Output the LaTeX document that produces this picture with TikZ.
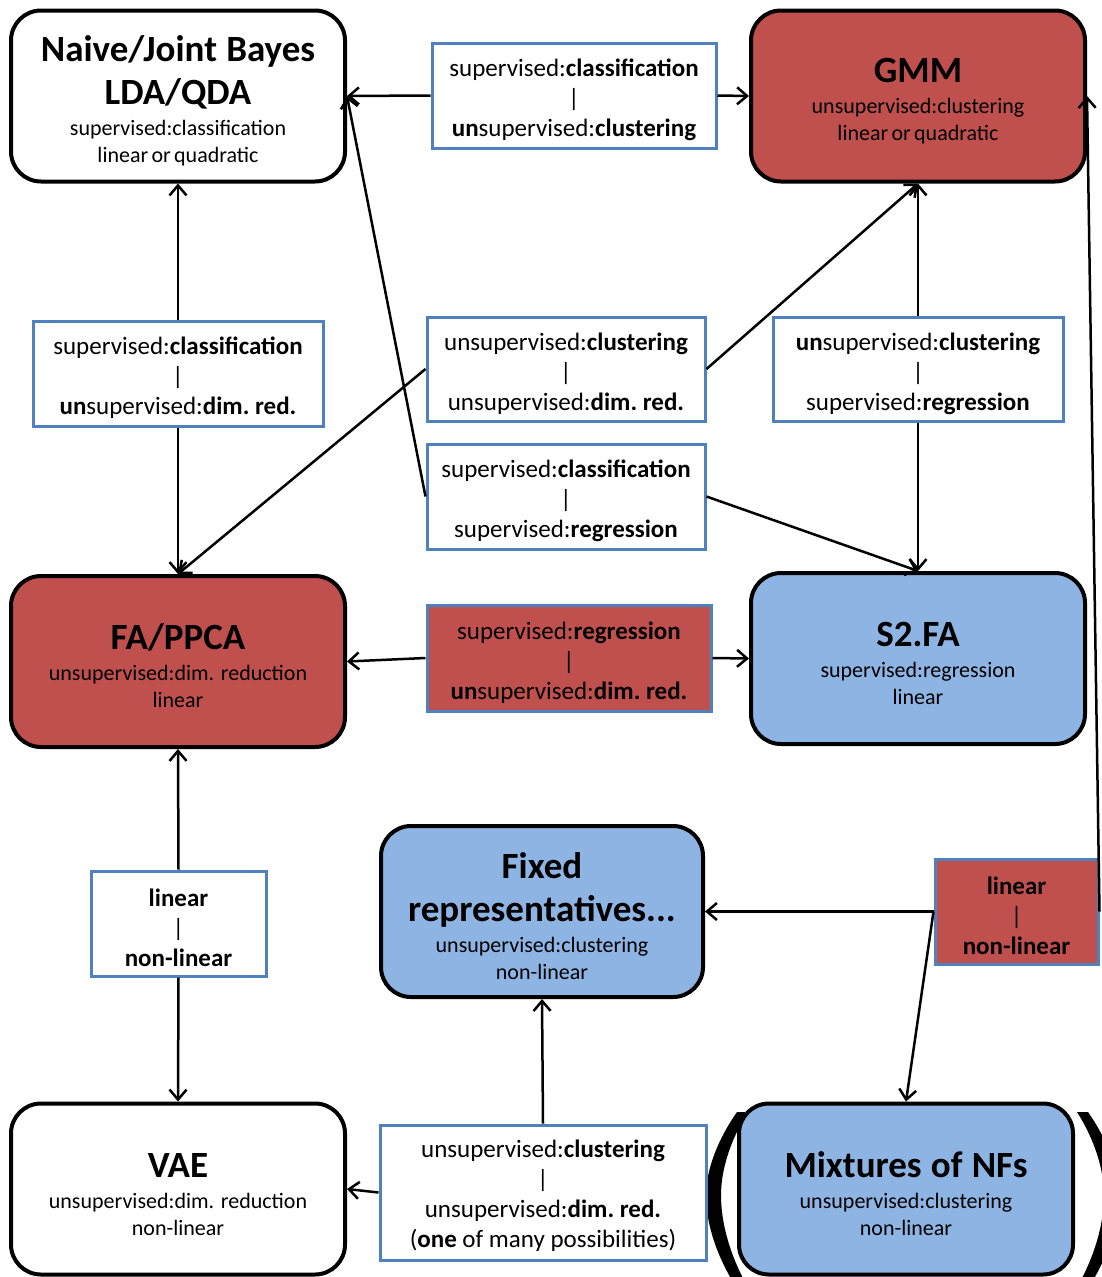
\documentclass[tikz,border=0pt]{standalone}
\usepackage{fontspec}
\setmainfont{Carlito}
\usetikzlibrary{arrows.meta}
\definecolor{cred}{HTML}{C0504D}
\definecolor{cblue}{HTML}{8EB4E3}
\definecolor{cedge}{HTML}{4F81BD}
\frenchspacing
\newcommand\ttl[1]{{\fontsize{37}{43}\selectfont\bfseries\spaceskip=0.25em\relax\rule{0pt}{35pt}#1\par}\vspace{4pt}}
\newcommand\sbt[1]{{\fontsize{22}{27}\selectfont #1\par}}
\newcommand\tst{\rule{0pt}{27pt}}
\tikzset{
  mnode/.style={draw=black, line width=4pt, rounded corners=30pt, inner sep=0pt,
    minimum height=171pt, text width=316pt, align=center},
  ebox/.style={draw=cedge, line width=3pt, fill=white, inner sep=0pt, align=center,
    font=\fontsize{25}{30}\selectfont},
  arr/.style={-{Straight Barb[length=10pt,width=17pt]}, line width=2.5pt, black},
}
\begin{document}
\begin{tikzpicture}[x=1pt,y=-1pt]
\useasboundingbox (0,0) rectangle (1102,1277);
% parentheses
\fill[black] (737,1112) .. controls (714,1145) and (706,1175) .. (706,1195)
  .. controls (706,1220) and (714,1250) .. (733,1282) -- (745,1282)
  .. controls (728,1250) and (721,1220) .. (721,1195)
  .. controls (721,1172) and (729,1142) .. (748,1112) -- cycle;
\fill[black] (1088,1112) .. controls (1111,1145) and (1119,1175) .. (1119,1195)
  .. controls (1119,1220) and (1111,1250) .. (1092,1282) -- (1080,1282)
  .. controls (1097,1250) and (1104,1220) .. (1104,1195)
  .. controls (1104,1172) and (1096,1142) .. (1077,1112) -- cycle;
% main nodes
\node[mnode, fill=white, minimum width=334pt] (nb) at (178,96)
  {\ttl{Naive/Joint Bayes\\LDA/QDA}\sbt{supervised:classification\\linear or quadratic}};
\node[mnode, fill=cred, minimum width=334pt] (gmm) at (918,96)
  {\ttl{GMM}\sbt{unsupervised:clustering\\linear or quadratic}};
\node[mnode, fill=cred, minimum width=334pt] (fa) at (178,661.5)
  {\ttl{FA/PPCA}\sbt{unsupervised:dim.~ reduction\\linear}};
\node[mnode, fill=cblue, minimum width=334pt] (s2fa) at (918,658.5)
  {\ttl{S2.FA}\sbt{supervised:regression\\linear}};
\node[mnode, fill=cblue, minimum width=322pt] (fixed) at (542,911.5)
  {\ttl{Fixed\\representatives...}\sbt{unsupervised:clustering\\non-linear}};
\node[mnode, fill=white, minimum width=334pt] (vae) at (178,1189)
  {\ttl{VAE}\sbt{unsupervised:dim.~ reduction\\non-linear}};
\node[mnode, fill=cblue, minimum width=334pt] (mix) at (906,1189)
  {\ttl{Mixtures of NFs}\sbt{unsupervised:clustering\\non-linear}};
% edge boxes
\node[ebox, minimum width=284pt, minimum height=105pt] (e1) at (574,95.5)
  {\tst supervised:\textbf{classification}\\|\\\textbf{un}supervised:\textbf{clustering}};
\node[ebox, minimum width=290pt, minimum height=105pt] (e2) at (178,373.5)
  {\tst supervised:\textbf{classification}\\|\\\textbf{un}supervised:\textbf{dim. red.}};
\node[ebox, minimum width=278pt, minimum height=104pt] (e3) at (566,369)
  {\tst unsupervised:\textbf{clustering}\\|\\unsupervised:\textbf{dim. red.}};
\node[ebox, minimum width=290pt, minimum height=104pt] (e4) at (918,369)
  {\tst\textbf{un}supervised:\textbf{clustering}\\|\\supervised:\textbf{regression}};
\node[ebox, minimum width=278pt, minimum height=105pt] (e5) at (566,496.5)
  {\tst supervised:\textbf{classification}\\|\\supervised:\textbf{regression}};
\node[ebox, fill=cred, minimum width=284pt, minimum height=106pt] (e6) at (569,658)
  {\tst supervised:\textbf{regression}\\|\\\textbf{un}supervised:\textbf{dim. red.}};
\node[ebox, minimum width=175pt, minimum height=105pt] (e7) at (178.5,923.5)
  {\tst\textbf{linear}\\|\\\textbf{non-linear}};
\node[ebox, fill=cred, minimum width=163pt, minimum height=105pt] (e8) at (1016.5,911.5)
  {\tst\textbf{linear}\\|\\\textbf{non-linear}};
\node[ebox, minimum width=326pt, minimum height=135pt] (e9) at (543,1192.5)
  {\rule{0pt}{23pt}unsupervised:\textbf{clustering}\\|\\unsupervised:\textbf{dim. red.}\\(\textbf{one} of many possibilities)};
% connectors
\draw[arr] (e1.west) -- (nb.east);
\draw[arr] (e1.east) -- (gmm.west);
\draw[arr] (e2.north) -- (nb.south);
\draw[arr] (e2.south) -- (fa.north);
\draw[arr] (e3.east) -- (gmm.south);
\draw[arr] (e3.west) -- (fa.north);
\draw[arr] (e4.north) -- (gmm.south);
\draw[arr] (e4.south) -- (s2fa.north);
\draw[arr] (e5.west) -- (nb.east);
\draw[arr] (e5.east) -- (s2fa.north);
\draw[arr] (e6.west) -- (fa.east);
\draw[arr] (e6.east) -- (s2fa.west);
\draw[arr] (e7.north) -- (fa.south);
\draw[arr] (e7.south) -- (vae.north);
\draw[arr] (e8.west) -- (fixed.east);
\draw[arr] (e8.west) -- (mix.north);
\draw[arr] (e8.east) -- (gmm.east);
\draw[arr] (e9.north) -- (fixed.south);
\draw[arr] (e9.west) -- (vae.east);
\end{tikzpicture}
\end{document}
